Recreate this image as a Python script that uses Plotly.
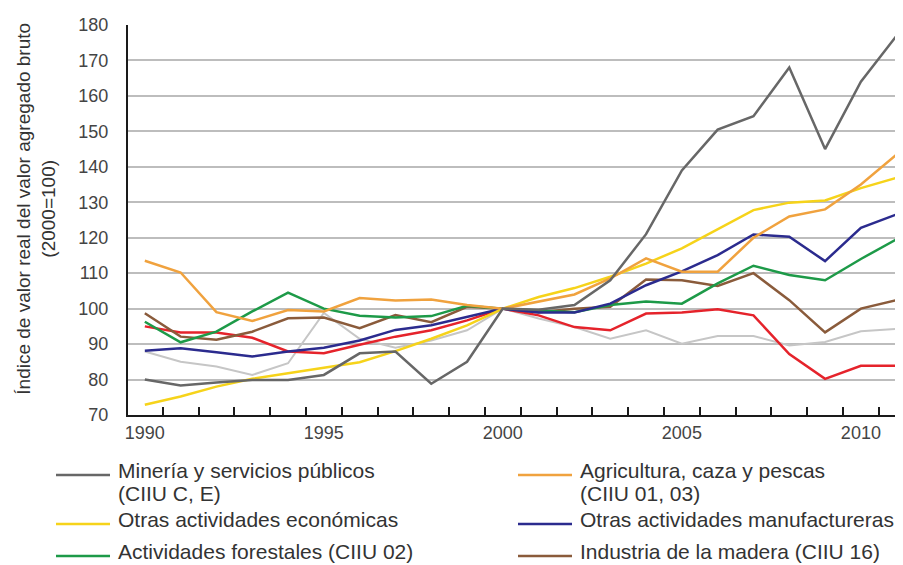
import plotly.graph_objects as go

years = list(range(1990, 2012))

mineria = [80, 78.3, 79.2, 79.9, 79.9, 81.3, 87.4, 87.9, 78.8, 85, 100, 99.7, 101, 108,
           121, 139, 150.5, 154.3, 168, 145, 164, 177]
agricultura = [113.5, 110.2, 99, 96.5, 99.6, 99.2, 103, 102.3, 102.6, 101, 100, 102, 104, 108.5,
               114.2, 110.4, 110.4, 120, 126, 128, 135, 143.5]
otras_economicas = [72.9, 75.2, 78, 80.2, 81.8, 83.4, 84.9, 88, 91.5, 95.3, 100, 103.3, 105.8, 109,
                    112.7, 117, 122.3, 127.8, 129.9, 130.5, 134, 136.9]
otras_manufactureras = [88.1, 88.8, 87.7, 86.5, 87.9, 89, 91, 94, 95.3, 97.6, 100, 98.9, 98.9, 101.4,
                        106.6, 110.5, 115.1, 120.9, 120.3, 113.4, 122.8, 126.6]
forestales = [96.3, 90.5, 93.5, 99.2, 104.5, 100, 98, 97.5, 97.9, 100.8, 100, 99.5, 99, 101,
              102, 101.4, 107.1, 112.1, 109.5, 108, 114, 119.6]
madera = [98.7, 92.1, 91.2, 93.5, 97.3, 97.5, 94.5, 98.2, 96.2, 100.5, 100, 99, 100, 100.5,
          108.2, 108, 106.4, 110, 102.4, 93.3, 100, 102.4]
serie_roja = [95, 93.3, 93.3, 91.8, 87.9, 87.4, 89.8, 92.1, 93.9, 96.7, 100, 98.1, 94.8, 93.9,
              98.6, 98.9, 99.8, 98.1, 87.2, 80.2, 83.9, 83.9]
serie_gris_clara = [87.9, 85, 83.7, 81.3, 84.6, 98.8, 91.5, 89, 91, 93.9, 100, 97.2, 94.8, 91.5,
                    93.9, 90.1, 92.3, 92.3, 89.6, 90.6, 93.6, 94.3]

y_ticks = list(range(70, 190, 10))
x_labels = [1990, 1995, 2000, 2005, 2010]
minor_ticks = [y + 0.5 for y in range(1990, 2011)]

# (nombre, datos, color, ancho, posición en leyenda o None)
series = [
    ('Serie gris clara', serie_gris_clara, '#c6c6c6', 2, None),
    ('Serie roja', serie_roja, '#e5232b', 2.5, None),
    ('Industria de la madera (CIIU 16)', madera, '#8a5b3b', 2.5, 5),
    ('Actividades forestales (CIIU 02)', forestales, '#1d9a48', 2.5, 4),
    ('Otras actividades manufactureras', otras_manufactureras, '#2b2b8e', 2.5, 3),
    ('Otras actividades económicas', otras_economicas, '#f6d31a', 2.5, 2),
    ('Agricultura, caza y pescas<br>(CIIU 01, 03)', agricultura, '#f0a23e', 2.5, 1),
    ('Minería y servicios públicos<br>(CIIU C, E)', mineria, '#676767', 2.5, 0),
]

# geometría del gráfico en píxeles
W, H = 903, 565
L, T, B = 120, 17, 158
plot_w = W - L
plot_h = H - T - B


def px_x(px):
    return (px - L) / plot_w


def px_y(py):
    return (H - B - py) / plot_h


fig = go.Figure()
for name, vals, color, width, slot in series:
    fig.add_trace(go.Scatter(
        x=years, y=vals, mode='lines', name=name,
        line=dict(color=color, width=width),
        showlegend=False
    ))

# leyenda dibujada a mano: dos columnas, tres filas
col_x = [48, 510]
row_y = [467, 516, 548]
line_gap = 23
for name, vals, color, width, slot in series:
    if slot is None:
        continue
    cx = col_x[slot % 2]
    cy = row_y[slot // 2]
    fig.add_shape(type='line', xref='paper', yref='paper',
                  x0=px_x(cx), x1=px_x(cx + 54), y0=px_y(cy), y1=px_y(cy),
                  line=dict(color=color, width=2.5))
    for i, part in enumerate(name.split('<br>')):
        fig.add_annotation(
            text=part, xref='paper', yref='paper',
            x=px_x(cx + 60), y=px_y(cy - 5 + i * line_gap),
            xanchor='left', yanchor='middle', showarrow=False,
            font=dict(size=21, color='#333')
        )

fig.update_layout(
    width=W, height=H,
    margin=dict(l=L, r=0, t=T, b=B),
    paper_bgcolor='white', plot_bgcolor='white',
    font=dict(family='Liberation Sans, Arial, sans-serif', color='#3a3a3a'),
    showlegend=False,
)

# título del eje Y como anotación para acercarlo al borde
fig.add_annotation(
    text='Índice de valor real del valor agregado bruto<br>(2000=100)',
    xref='paper', yref='paper', x=-0.117, y=0.53,
    xanchor='center', yanchor='middle', textangle=-90, showarrow=False,
    font=dict(size=19, color='#333')
)

fig.update_xaxes(
    range=[1989.53, 2011.4],
    tickvals=x_labels, ticks='', showgrid=False,
    showline=True, linecolor='#1a1a1a', linewidth=2,
    tickfont=dict(size=18, color='#444'),
    minor=dict(tickvals=minor_ticks, ticks='inside', ticklen=8,
               tickwidth=2, tickcolor='#1a1a1a', showgrid=False),
    zeroline=False
)
fig.update_yaxes(
    range=[70, 180], tickvals=y_ticks,
    showgrid=True, gridcolor='#bdbdbd', gridwidth=1.5,
    showline=True, linecolor='#1a1a1a', linewidth=2,
    ticks='', tickfont=dict(size=18, color='#444'), ticklabelstandoff=14,
    zeroline=False,
)

fig.write_html('out.html')
